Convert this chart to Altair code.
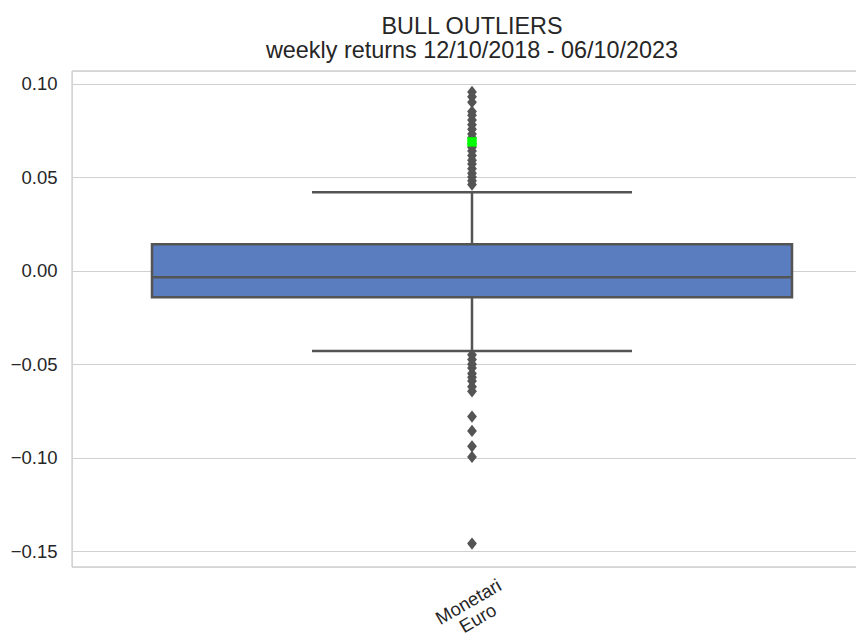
import altair as alt
import pandas as pd

# ---- data ----
categories = ["Monetari\nEuro"]
positions = [0]
q1_vals = [-0.0142]
median_vals = [-0.0035]
q3_vals = [0.0141]
whisker_low = [-0.0430]
whisker_high = [0.0419]

outliers_high = [0.0955, 0.0930, 0.0900, 0.0850, 0.0830, 0.0805, 0.0780, 0.0755,
                 0.0730, 0.0710, 0.0680, 0.0660, 0.0640, 0.0615, 0.0590, 0.0570,
                 0.0545, 0.0520, 0.0500, 0.0480, 0.0460]
outliers_low = [-0.0450, -0.0475, -0.0500, -0.0520, -0.0550, -0.0570, -0.0590,
                -0.0620, -0.0645, -0.0780, -0.0857, -0.0939, -0.0996, -0.1459]
highlight_vals = [0.0688]

y_ticks = [-0.15, -0.10, -0.05, 0.00, 0.05, 0.10]

# ---- styling ----
W, H = 784, 496
FONT = "Liberation Sans"
BOX_FILL = "#5a7dbf"
EDGE = "#545454"
GRID = "#d0d0d0"
TXT = "#262626"

xscale = alt.Scale(domain=[-0.5, 0.48], nice=False, zero=False)
yscale = alt.Scale(domain=[-0.1584, 0.1067], nice=False, zero=False)

yaxis = alt.Axis(values=y_ticks, format=".2f", title=None, ticks=False, domain=False,
                 grid=True, gridColor=GRID, gridWidth=1.2, labelFontSize=18.5,
                 labelColor=TXT, labelPadding=15, labelFont=FONT)
NOX = dict(scale=xscale, axis=None)
Y = dict(scale=yscale, axis=yaxis)

box_df = pd.DataFrame({
    "cat": categories, "pos": positions, "q1": q1_vals, "median": median_vals,
    "q3": q3_vals, "lo": whisker_low, "hi": whisker_high,
})
out_df = pd.DataFrame({
    "value": outliers_high + outliers_low,
    "pos": positions * (len(outliers_high) + len(outliers_low)),
})
hl_df = pd.DataFrame({"value": highlight_vals, "pos": positions * len(highlight_vals)})

base = alt.Chart(box_df).transform_calculate(
    left="datum.pos - 0.4", right="datum.pos + 0.4",
    capl="datum.pos - 0.2", capr="datum.pos + 0.2",
)

# spines (left, top, bottom) — right spine lies beyond the visible frame
spine_df = pd.DataFrame({"k": [0]})
spine_left = alt.Chart(spine_df).mark_rule(color=GRID, strokeWidth=1.3).encode(
    x=alt.value(0), y=alt.value(0), y2=alt.value(H))
spine_top = alt.Chart(spine_df).mark_rule(color=GRID, strokeWidth=1.3).encode(
    x=alt.value(0), x2=alt.value(W), y=alt.value(0))
spine_bottom = alt.Chart(spine_df).mark_rule(color=GRID, strokeWidth=1.3).encode(
    x=alt.value(0), x2=alt.value(W), y=alt.value(H))

whisker_up = base.mark_rule(color=EDGE, strokeWidth=2.5).encode(
    x=alt.X("pos:Q", **NOX), y=alt.Y("q3:Q", **Y), y2="hi:Q")
whisker_dn = base.mark_rule(color=EDGE, strokeWidth=2.5).encode(
    x=alt.X("pos:Q", **NOX), y=alt.Y("lo:Q", **Y), y2="q1:Q")
cap_hi = base.mark_rule(color=EDGE, strokeWidth=2.5).encode(
    x=alt.X("capl:Q", **NOX), x2="capr:Q", y=alt.Y("hi:Q", **Y))
cap_lo = base.mark_rule(color=EDGE, strokeWidth=2.5).encode(
    x=alt.X("capl:Q", **NOX), x2="capr:Q", y=alt.Y("lo:Q", **Y))

box = base.mark_rect(fill=BOX_FILL, stroke=EDGE, strokeWidth=2.5).encode(
    x=alt.X("left:Q", **NOX), x2="right:Q", y=alt.Y("q1:Q", **Y), y2="q3:Q")
med = base.mark_rule(color=EDGE, strokeWidth=2.5).encode(
    x=alt.X("left:Q", **NOX), x2="right:Q", y=alt.Y("median:Q", **Y))

diamond = "M0,-1L0.8,0L0,1L-0.8,0Z"
outs = alt.Chart(out_df).mark_point(shape=diamond, filled=True, size=150,
                                    color=EDGE, opacity=1).encode(
    x=alt.X("pos:Q", **NOX), y=alt.Y("value:Q", **Y))
hl = alt.Chart(hl_df).mark_point(shape="square", filled=True, size=90,
                                 color="#00ff00", opacity=1).encode(
    x=alt.X("pos:Q", **NOX), y=alt.Y("value:Q", **Y))

xlabel = alt.Chart(box_df).mark_text(angle=330, align="center", baseline="middle",
                                     fontSize=18.5, lineBreak="\n", font=FONT,
                                     color=TXT, lineHeight=19, dx=-4).encode(
    x=alt.X("pos:Q", **NOX), y=alt.value(H + 33), text="cat:N")

chart = alt.layer(
    spine_left, spine_top, spine_bottom,
    whisker_up, whisker_dn, cap_hi, cap_lo, box, med, outs, hl, xlabel,
).properties(
    width=W, height=H,
    title=alt.TitleParams(["BULL OUTLIERS", "weekly returns 12/10/2018 - 06/10/2023"],
                          fontSize=23.4, font=FONT, color=TXT, fontWeight="normal",
                          anchor="middle", lineHeight=24, offset=7, dx=8),
    autosize=alt.AutoSizeParams(type="none"),
    padding={"left": 64, "top": 63, "right": 0, "bottom": 69},
).configure_view(stroke="transparent", strokeWidth=0).configure(background="white")

chart.save("out.html", embed_options={"renderer": "svg", "actions": False})
